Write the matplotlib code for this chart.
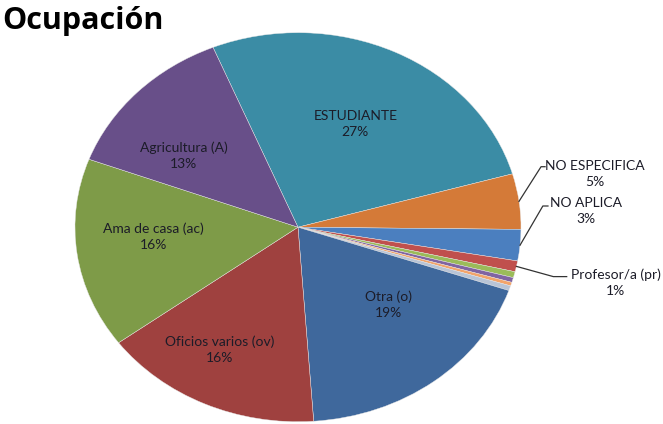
import numpy as np
import matplotlib.pyplot as plt

plt.rcParams['font.family'] = ['Lato', 'DejaVu Sans']

# occupation shares (percent), clockwise from the top slice
categories = ["ESTUDIANTE", "NO ESPECIFICA", "NO APLICA", "Profesor/a (pr)",
              "Comerciante (c)", "Conductor (cd)", "Pensionado (p)", "Empleado (e)",
              "Otra (o)", "Oficios varios (ov)", "Ama de casa (ac)", "Agricultura (A)"]
shares = [26.8, 4.6, 2.6, 0.9, 0.5, 0.4, 0.3, 0.4, 18.6, 16.0, 15.8, 13.1]
colors = ["#3b8ca5", "#d47a38", "#4b7fbf", "#c0504d", "#9bbb59", "#8064a2",
          "#f3a46a", "#b8c4d6", "#3f689c", "#9f413f", "#7e9b48", "#684f89"]
shown = [True, True, True, True, False, False, False, False, True, True, True, True]

# label placement: inner labels get (radius, angle nudge); outer ones get text spot and knee
inner = {"ESTUDIANTE": (0.59, 0.0), "Otra (o)": (0.57, 8.0),
         "Oficios varios (ov)": (0.72, -4.5), "Ama de casa (ac)": (0.65, -3.5),
         "Agricultura (A)": (0.63, 8.5)}
outer = {"NO ESPECIFICA": ((1.332, 0.276), (1.090, 0.311), (1.108, 0.311)),
         "NO APLICA": ((1.291, 0.081), (1.098, 0.109), (1.121, 0.109)),
         "Profesor/a (pr)": ((1.425, -0.287), (1.145, -0.254), (1.205, -0.254))}

fig = plt.figure(figsize=(6.63, 4.24), dpi=100)
ax = fig.add_axes([0.1131, 0.0054, 0.6727, 0.9175])

wedges, _ = ax.pie(shares, colors=colors, startangle=112.4, counterclock=False,
                   radius=1.0, wedgeprops=dict(edgecolor="#e8e8e8", linewidth=0.3))
ax.set_aspect("auto")
ax.set_xlim(-1, 1)
ax.set_ylim(-1, 1)
ax.axis("off")

total = sum(shares)
for w, name, val, show in zip(wedges, categories, shares, shown):
    if not show:
        continue
    pct = "%d%%" % int(np.floor(val / total * 100 + 0.5))
    mid = 0.5 * (w.theta1 + w.theta2)
    if name in inner:
        r, nudge = inner[name]
        a = np.radians(mid + nudge)
        ax.text(r * np.cos(a), r * np.sin(a), name + "\n" + pct, ha="center", va="center",
                fontsize=10, color="#1c1c28", linespacing=1.4)
    else:
        txt, knee, end = outer[name]
        a = np.radians(mid)
        ax.plot([np.cos(a), knee[0], end[0]], [np.sin(a), knee[1], end[1]],
                color="#333333", lw=0.9, clip_on=False)
        ax.text(txt[0], txt[1], name + "\n" + pct, ha="center", va="center",
                fontsize=10, color="#1c1c28", linespacing=1.4)

fig.text(0.004, 0.985, "Ocupación", ha="left", va="top", fontsize=22,
         fontweight="bold", color="#000000", family="Open Sans")

fig.savefig("out.png", dpi=100, facecolor="white")
